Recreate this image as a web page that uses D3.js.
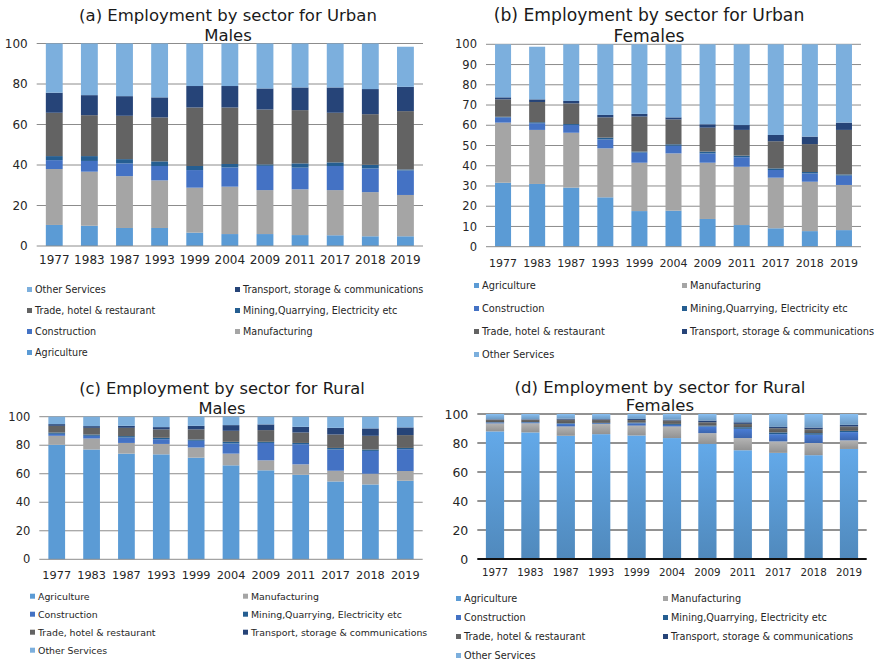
<!DOCTYPE html>
<html>
<head>
<meta charset="utf-8">
<script src="https://cdn.jsdelivr.net/npm/d3@7"></script>
<style>
  html, body { margin: 0; padding: 0; background: #fff; }
  svg { display: block; font-family: "DejaVu Sans", Verdana, sans-serif; }
</style>
</head>
<body>
<svg id="chart" width="878" height="661"></svg>
<script>
// Survey years shared by all four panels
const years = ["1977", "1983", "1987", "1993", "1999", "2004", "2009", "2011", "2017", "2018", "2019"];

// Sectors, bottom of each stack first
const sectors = [
  "Agriculture",
  "Manufacturing",
  "Construction",
  "Mining,Quarrying, Electricity etc",
  "Trade, hotel & restaurant",
  "Transport, storage & communications",
  "Other Services"
];
const sectorColors = ["#5b9bd5", "#a5a5a5", "#4472c4", "#255e91", "#636363", "#264478", "#7cafdd"];

// Share of employment (%) — one row per sector, in the order above
const urbanMales = [
  [10.4, 10, 8.9, 8.9, 6.6, 5.9, 5.9, 5.4, 5.3, 4.8, 4.8],
  [27.6, 26.7, 25.6, 23.5, 22.2, 23.4, 21.7, 22.6, 22.3, 21.8, 20.4],
  [4.4, 5.3, 6.3, 7.1, 8.7, 9.5, 12, 10.7, 11.9, 11.7, 12.1],
  [2, 2.4, 2.1, 2.3, 2, 1.7, 0.7, 2.1, 1.8, 1.8, 0.5],
  [21.4, 20.2, 21.4, 21.7, 28.9, 27.9, 27.1, 26.3, 24.5, 25, 28.8],
  [9.9, 9.9, 9.7, 9.9, 10.6, 10.6, 10.4, 11.2, 12.5, 12.4, 12],
  [24.3, 25.5, 26, 26.6, 21, 21, 22.2, 21.7, 21.7, 22.5, 19.8]
];
const urbanFemales = [
  [31.6, 31, 29.2, 24.4, 17.6, 17.8, 13.7, 10.7, 9.1, 7.7, 8.2],
  [29.7, 26.7, 27.1, 24.2, 23.9, 28.3, 27.8, 28.8, 25, 24.4, 22.3],
  [2.6, 3.3, 3.8, 4.4, 5, 3.8, 4.6, 4.7, 3.8, 4.1, 4.6],
  [0.3, 0.5, 0.5, 0.9, 0.5, 0.7, 0.9, 0.8, 0.8, 0.7, 0.6],
  [8.6, 10, 10.2, 10, 17.3, 12.3, 11.8, 12.7, 13.4, 13.8, 22],
  [1, 1.3, 1.2, 1.2, 1.3, 1, 1.7, 2.4, 3.1, 3.7, 3.6],
  [26.2, 26, 28, 34.9, 34.4, 36.1, 39.5, 39.9, 44.8, 45.6, 38.7]
];
const ruralMales = [
  [80.3, 77, 74.1, 73.6, 71.3, 65.9, 62.4, 59.3, 54.6, 52.5, 55.1],
  [6.3, 7.7, 7.5, 7.3, 7.1, 8.2, 7, 7.3, 7.5, 7.5, 6.8],
  [1.4, 1.9, 3.8, 3.3, 4.7, 7.1, 12.2, 14.1, 14.9, 16, 15.3],
  [0.9, 0.9, 1, 1, 0.9, 1.2, 0.8, 0.9, 1.1, 1, 0.9],
  [4.7, 4.7, 5.8, 5.9, 7.1, 7.7, 8.2, 7.3, 9.4, 9.6, 9],
  [1.2, 1.2, 1.4, 1.6, 2.5, 4, 4, 4, 4.7, 5.2, 5.4],
  [5.2, 6.6, 6.4, 7.3, 6.4, 5.9, 5.4, 7.1, 7.8, 8.2, 7.5]
];
const ruralFemales = [
  [88, 87.3, 85, 86.1, 85.2, 83.4, 79.5, 75, 73.2, 71.6, 75.9],
  [5.5, 6.3, 6.4, 7, 6.8, 8, 7.3, 8.4, 7.9, 8.4, 5.9],
  [0.6, 0.6, 1.8, 0.5, 1.6, 1.1, 4.6, 6.4, 5, 5.7, 5.7],
  [0.3, 0.3, 0.4, 0.3, 0.5, 0.7, 0.6, 1.1, 1.2, 1.1, 0.9],
  [1.7, 1.6, 2.5, 2.2, 1.8, 2.3, 2.3, 2.3, 2.9, 2.7, 3],
  [0.3, 0.3, 0.7, 0.4, 0.7, 0.6, 1.2, 1.1, 0.9, 1.2, 1.1],
  [3.6, 3.6, 3.2, 3.5, 3.4, 3.9, 4.5, 5.7, 8.9, 9.3, 7.5]
];

const yTicksFine = [0, 10, 20, 30, 40, 50, 60, 70, 80, 90, 100];
const yTicksCoarse = [0, 20, 40, 60, 80, 100];

const svg = d3.select("#chart");
const defs = svg.append("defs");

// Vertical shading used by the rural-female panel
sectorColors.forEach((c, i) => {
  const g = defs.append("linearGradient")
    .attr("id", "shade" + i).attr("x1", 0).attr("y1", 0).attr("x2", 0).attr("y2", 1);
  g.append("stop").attr("offset", "0%").attr("stop-color", d3.color(c).brighter(0.25));
  g.append("stop").attr("offset", "100%").attr("stop-color", d3.color(c).darker(0.35));
});

const panels = [
  {
    data: urbanMales, title: ["(a) Employment by sector for Urban", "Males"],
    x0: 36.7, x1: 423, top: 43.5, bottom: 246, pad: 0.52,
    ticks: yTicksCoarse, tickSize: 12, yearSize: 12, yearDy: 18,
    titleX: 228, titleY: [21, 41], titleSize: 16.5,
    legendOrder: [6, 5, 4, 3, 2, 1, 0], legX: [27, 235], legY: 290, legStep: 21, legSize: 9.6,
    grid: "#8c8c8c", gridW: 1, axis: "#8c8c8c", axisW: 1, shaded: false
  },
  {
    data: urbanFemales, title: ["(b) Employment by sector for Urban", "Females"],
    x0: 486, x1: 861, top: 44.3, bottom: 246.7, pad: 0.53,
    ticks: yTicksFine, tickSize: 11.5, yearSize: 11, yearDy: 20,
    titleX: 649, titleY: [21, 42], titleSize: 17.2,
    legendOrder: [0, 1, 2, 3, 4, 5, 6], legX: [474, 682], legY: 286, legStep: 23, legSize: 9.8,
    grid: "#8c8c8c", gridW: 1, axis: "#8c8c8c", axisW: 1, shaded: false
  },
  {
    data: ruralMales, title: ["(c) Employment by sector for Rural", "Males"],
    x0: 39.3, x1: 422.7, top: 416.7, bottom: 559.3, pad: 0.52,
    ticks: yTicksCoarse, tickSize: 11.5, yearSize: 11.3, yearDy: 20,
    titleX: 222, titleY: [394, 414], titleSize: 16.3,
    legendOrder: [0, 1, 2, 3, 4, 5, 6], legX: [30, 243], legY: 596.7, legStep: 18, legSize: 9.4,
    grid: "#8c8c8c", gridW: 1, axis: "#8c8c8c", axisW: 1, shaded: false
  },
  {
    data: ruralFemales, title: ["(d) Employment by sector for Rural", "Females"],
    x0: 477.3, x1: 866.7, top: 414, bottom: 559, pad: 0.485,
    ticks: yTicksCoarse, tickSize: 12.5, yearSize: 10.3, yearDy: 17,
    titleX: 660, titleY: [393, 411], titleSize: 16.5,
    legendOrder: [0, 1, 2, 3, 4, 5, 6], legX: [456, 663], legY: 599, legStep: 19, legSize: 9.7,
    grid: "#6e6e6e", gridW: 1.6, axis: "#111", axisW: 2, shaded: true
  }
];

panels.forEach(p => {
  const g = svg.append("g");

  // Table of rows keyed by sector for d3.stack
  const table = years.map((yr, j) => {
    const row = { year: yr };
    sectors.forEach((s, i) => { row[s] = p.data[i][j]; });
    return row;
  });
  const stacked = d3.stack().keys(sectors)(table);

  const x = d3.scaleBand().domain(years).range([p.x0, p.x1])
    .paddingInner(p.pad).paddingOuter(p.pad / 2);
  const y = d3.scaleLinear().domain([0, 100]).range([p.bottom, p.top]);

  // Horizontal gridlines
  g.append("g").selectAll("line")
    .data(p.ticks.filter(t => t > 0))
    .join("line")
    .attr("x1", p.x0).attr("x2", p.x1)
    .attr("y1", d => y(d)).attr("y2", d => y(d))
    .attr("stroke", p.grid).attr("stroke-width", p.gridW);

  // Stacked bars
  g.append("g").selectAll("g")
    .data(stacked)
    .join("g")
    .attr("fill", (d, i) => p.shaded ? `url(#shade${i})` : sectorColors[i])
    .selectAll("rect")
    .data(d => d)
    .join("rect")
    .attr("x", d => x(d.data.year))
    .attr("width", x.bandwidth())
    .attr("y", d => y(d[1]))
    .attr("height", d => Math.max(0, y(d[0]) - y(d[1])));

  // Baseline
  g.append("line")
    .attr("x1", p.x0).attr("x2", p.x1)
    .attr("y1", y(0)).attr("y2", y(0))
    .attr("stroke", p.axis).attr("stroke-width", p.axisW);

  // Y axis labels
  const yAxis = g.append("g")
    .attr("transform", `translate(${p.x0 - 9},0)`)
    .call(d3.axisLeft(y).tickValues(p.ticks).tickSize(0).tickPadding(0));
  yAxis.select(".domain").remove();
  yAxis.selectAll("text")
    .attr("font-family", "DejaVu Sans, Verdana, sans-serif")
    .attr("font-size", p.tickSize).attr("fill", "#262626");

  // X axis labels
  const xAxis = g.append("g")
    .attr("transform", `translate(0,${p.bottom})`)
    .call(d3.axisBottom(x).tickSize(0).tickPadding(0));
  xAxis.select(".domain").remove();
  xAxis.selectAll("text")
    .attr("dy", null).attr("y", p.yearDy)
    .attr("font-family", "DejaVu Sans, Verdana, sans-serif")
    .attr("font-size", p.yearSize).attr("fill", "#262626");

  // Two-line title
  g.append("g").selectAll("text")
    .data(p.title)
    .join("text")
    .attr("x", p.titleX)
    .attr("y", (d, i) => p.titleY[i])
    .attr("text-anchor", "middle")
    .attr("font-size", p.titleSize)
    .attr("fill", "#1a1a1a")
    .text(d => d);

  // Legend, two columns
  const leg = g.append("g").selectAll("g")
    .data(p.legendOrder)
    .join("g")
    .attr("transform", (d, k) =>
      `translate(${p.legX[k % 2]},${p.legY + Math.floor(k / 2) * p.legStep})`);
  leg.append("rect")
    .attr("x", 0).attr("y", -3).attr("width", 5).attr("height", 5)
    .attr("fill", d => sectorColors[d]);
  leg.append("text")
    .attr("x", 8).attr("y", 0).attr("dy", "0.35em")
    .attr("font-size", p.legSize).attr("fill", "#262626")
    .text(d => sectors[d]);
});
</script>
</body>
</html>
